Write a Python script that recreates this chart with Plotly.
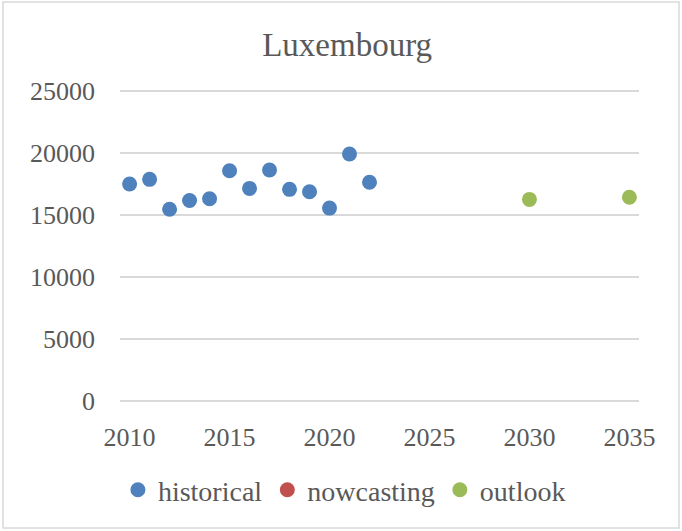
import plotly.graph_objects as go

historical_years = [2010, 2011, 2012, 2013, 2014, 2015, 2016, 2017, 2018, 2019, 2020, 2021, 2022]
historical_values = [17500, 17880, 15460, 16170, 16310, 18570, 17150, 18630, 17070, 16880, 15560, 19920, 17640]
nowcasting_years = []
nowcasting_values = []
outlook_years = [2030, 2035]
outlook_values = [16260, 16430]

x_ticks = [2010, 2015, 2020, 2025, 2030, 2035]
y_ticks = [0, 5000, 10000, 15000, 20000, 25000]
y_tick_labels = ["0", "5000", "10000", "15000", "20000", "25000"]
x_tick_labels = ["2010", "2015", "2020", "2025", "2030", "2035"]

FONT = "Liberation Serif"
TXT = "#595959"
GRID = "#D9D9D9"

fig = go.Figure()
fig.add_trace(go.Scatter(x=historical_years, y=historical_values, mode="markers", name="historical",
                         marker=dict(color="#4F81BD", size=15)))
fig.add_trace(go.Scatter(x=nowcasting_years or [None], y=nowcasting_values or [None], mode="markers",
                         name="nowcasting", showlegend=True,
                         marker=dict(color="#C0504D", size=15)))
fig.add_trace(go.Scatter(x=outlook_years, y=outlook_values, mode="markers", name="outlook",
                         marker=dict(color="#9BBB59", size=15)))

fig.update_layout(
    width=682, height=531,
    margin=dict(l=120, r=43, t=88, b=127),
    paper_bgcolor="white", plot_bgcolor="white",
    font=dict(family=FONT, color=TXT, size=26),
    title=dict(text="Luxembourg", x=0.509, xref="container", xanchor="center",
               y=1 - 44 / 531, yref="container", yanchor="middle",
               font=dict(family=FONT, size=33, color=TXT)),
    showlegend=True,
    legend=dict(orientation="h", xref="container", yref="container", x=0.505, xanchor="center",
                y=1 - 490 / 531, yanchor="middle", font=dict(family=FONT, size=28, color=TXT),
                itemwidth=30, tracegroupgap=0, bgcolor="rgba(0,0,0,0)"),
    shapes=[dict(type="rect", xref="paper", yref="paper",
                 x0=-117 / 519, x1=1 + 40 / 519, y0=-124 / 316, y1=1 + 86 / 316,
                 line=dict(color=GRID, width=1.5), fillcolor="rgba(0,0,0,0)", layer="below")],
)
fig.update_xaxes(range=[2009.52, 2035.48], tickvals=x_ticks, ticktext=x_tick_labels, showgrid=False,
                 zeroline=False, showline=False, ticks="", ticklabelstandoff=15, tickfont=dict(size=26))
fig.update_yaxes(range=[-250, 25250], tickvals=y_ticks, ticktext=y_tick_labels, showgrid=True,
                 gridcolor=GRID, gridwidth=1.5,
                 zeroline=False, showline=False, ticks="", ticklabelstandoff=24, tickfont=dict(size=26))

fig.write_html("out.html", config={"displayModeBar": False},
               post_script="document.body.style.margin='0';")
